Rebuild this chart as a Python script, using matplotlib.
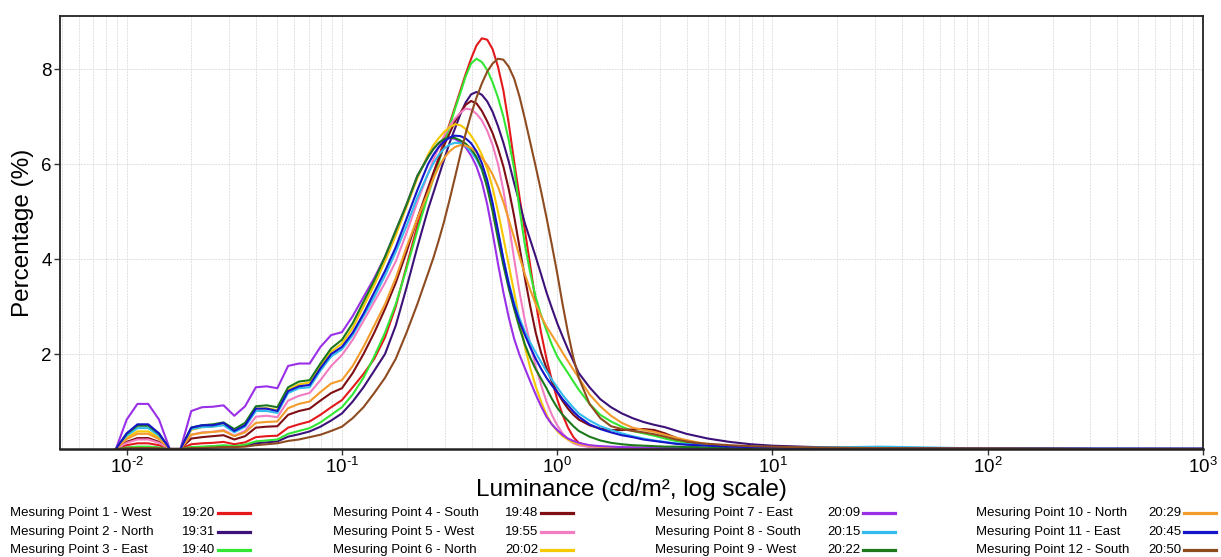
import numpy as np
import matplotlib
matplotlib.use("Agg")
import matplotlib.pyplot as plt
from matplotlib.lines import Line2D

plt.rcParams['font.family'] = ['Liberation Sans', 'DejaVu Sans']
plt.rcParams['mathtext.fontset'] = 'custom'
plt.rcParams['mathtext.rm'] = 'Liberation Sans'
plt.rcParams['mathtext.it'] = 'Liberation Sans'

#================================================================================================================================
# luminance values (cd/m2) where the distributions were read off
lum_low = [0.00891, 0.0100, 0.01122, 0.01259, 0.01413, 0.01585, 0.01778, 0.01995, 0.02239, 0.02512,
           0.02818, 0.03162, 0.03548, 0.03981, 0.04467, 0.05012, 0.05623, 0.06310, 0.07079, 0.07943,
           0.08913, 0.1000, 0.1122, 0.1259, 0.1413, 0.1585, 0.1778, 0.1995, 0.2239]
lum_mid = [0.2512, 0.2661, 0.2818, 0.2985, 0.3162, 0.3350, 0.3548, 0.3758, 0.3981, 0.4217,
           0.4467, 0.4732, 0.5012, 0.5309, 0.5623, 0.5957, 0.6310, 0.6683, 0.7079, 0.7499,
           0.7943, 0.8414, 0.8913, 0.9441, 1.000, 1.059, 1.122, 1.189, 1.259]
lum_high = [1.413, 1.585, 1.778, 1.995, 2.239, 2.512, 2.818, 3.162, 3.548, 3.981,
            4.467, 5.012, 6.310, 7.943, 10.0, 15.85, 31.62, 100.0, 316.2, 1000.0]
lum = lum_low + lum_mid + lum_high

# percentage per measuring point (low / peak / tail part)
p1 = [0, 0.08, 0.12, 0.12, 0.08, 0, 0, 0.10, 0.12, 0.13, 0.15, 0.10, 0.14, 0.25, 0.27,
      0.28, 0.45, 0.52, 0.58, 0.72, 0.88, 1.03, 1.30, 1.58, 1.90, 2.35, 3.00, 3.85, 4.70] + \
     [5.45, 5.8, 6.15, 6.5, 6.85, 7.2, 7.55, 7.9, 8.22, 8.5, 8.65, 8.62, 8.42, 8.05, 7.55,
      6.85, 6.05, 5.3, 4.6, 3.85, 3.1, 2.45, 1.9, 1.45, 1.05, 0.72, 0.45, 0.25, 0.13] + \
     [0.05, 0.03, 0.03, 0.03, 0.02, 0.02, 0.02, 0.02, 0.02, 0.02,
      0.01, 0.01, 0.01, 0.01, 0.01, 0.01, 0.01, 0, 0, 0]
p2 = [0, 0.025, 0.04, 0.04, 0.025, 0, 0, 0.03, 0.04, 0.05, 0.06, 0.05, 0.07, 0.12, 0.14,
      0.16, 0.26, 0.31, 0.37, 0.47, 0.60, 0.75, 1.00, 1.30, 1.65, 2.00, 2.60, 3.40, 4.25] + \
     [5.05, 5.4, 5.75, 6.1, 6.45, 6.75, 7.05, 7.3, 7.47, 7.52, 7.46, 7.32, 7.1, 6.8, 6.45,
      6.05, 5.6, 5.18, 4.75, 4.4, 4.05, 3.68, 3.3, 2.97, 2.65, 2.37, 2.10, 1.85, 1.60] + \
     [1.30, 1.05, 0.88, 0.75, 0.65, 0.57, 0.51, 0.46, 0.39, 0.32,
      0.27, 0.22, 0.15, 0.10, 0.07, 0.04, 0.02, 0.01, 0, 0]
p3 = [0, 0.03, 0.05, 0.05, 0.03, 0, 0, 0.04, 0.05, 0.06, 0.08, 0.06, 0.09, 0.16, 0.18,
      0.20, 0.32, 0.38, 0.44, 0.56, 0.72, 0.88, 1.15, 1.50, 1.95, 2.45, 3.05, 3.80, 4.60] + \
     [5.35, 5.7, 6.05, 6.42, 6.8, 7.16, 7.5, 7.85, 8.12, 8.22, 8.15, 7.98, 7.72, 7.4, 7.0,
      6.5, 5.9, 5.05, 4.3, 3.7, 3.2, 2.82, 2.5, 2.2, 1.95, 1.77, 1.6, 1.42, 1.25] + \
     [0.95, 0.72, 0.58, 0.47, 0.38, 0.33, 0.28, 0.22, 0.17, 0.13,
      0.10, 0.08, 0.05, 0.04, 0.03, 0.02, 0.01, 0.01, 0, 0]
p4 = [0, 0.15, 0.23, 0.23, 0.15, 0, 0, 0.22, 0.25, 0.27, 0.29, 0.20, 0.27, 0.45, 0.47,
      0.48, 0.72, 0.80, 0.85, 1.02, 1.18, 1.28, 1.60, 2.00, 2.45, 2.95, 3.50, 4.15, 4.85] + \
     [5.5, 5.82, 6.1, 6.4, 6.65, 6.9, 7.08, 7.25, 7.33, 7.28, 7.12, 6.9, 6.65, 6.33, 5.95,
      5.47, 4.9, 4.25, 3.6, 3.0, 2.45, 2.03, 1.7, 1.42, 1.2, 1.01, 0.85, 0.72, 0.62] + \
     [0.50, 0.43, 0.40, 0.40, 0.41, 0.42, 0.40, 0.33, 0.24, 0.16,
      0.11, 0.08, 0.05, 0.04, 0.03, 0.02, 0.01, 0.01, 0, 0]
p5 = [0, 0.13, 0.20, 0.20, 0.13, 0, 0, 0.30, 0.35, 0.36, 0.40, 0.28, 0.38, 0.68, 0.70,
      0.67, 1.02, 1.12, 1.18, 1.45, 1.75, 1.98, 2.30, 2.70, 3.10, 3.50, 3.95, 4.55, 5.20] + \
     [5.8, 6.1, 6.35, 6.6, 6.8, 6.96, 7.08, 7.17, 7.15, 7.06, 6.92, 6.7, 6.4, 6.0, 5.45,
      4.75, 4.0, 3.3, 2.7, 2.2, 1.75, 1.35, 1.0, 0.72, 0.5, 0.33, 0.2, 0.12, 0.08] + \
     [0.04, 0.03, 0.02, 0.02, 0.02, 0.02, 0.02, 0.01, 0.01, 0.01,
      0.01, 0.01, 0.01, 0.01, 0.01, 0.01, 0, 0, 0, 0]
p6 = [0, 0.24, 0.37, 0.37, 0.24, 0, 0, 0.40, 0.46, 0.47, 0.52, 0.38, 0.50, 0.85, 0.86,
      0.82, 1.25, 1.36, 1.40, 1.75, 2.05, 2.22, 2.55, 3.00, 3.45, 3.95, 4.50, 5.10, 5.70] + \
     [6.2, 6.4, 6.55, 6.68, 6.78, 6.84, 6.82, 6.74, 6.6, 6.42, 6.2, 5.9, 5.5, 5.0, 4.45,
      3.87, 3.3, 2.7, 2.15, 1.7, 1.32, 1.0, 0.72, 0.52, 0.38, 0.27, 0.2, 0.14, 0.11] + \
     [0.07, 0.05, 0.04, 0.03, 0.03, 0.02, 0.02, 0.02, 0.02, 0.01,
      0.01, 0.01, 0.01, 0.01, 0.01, 0.01, 0, 0, 0, 0]
p7 = [0, 0.62, 0.95, 0.95, 0.62, 0, 0, 0.80, 0.88, 0.89, 0.92, 0.70, 0.90, 1.30, 1.32,
      1.28, 1.75, 1.80, 1.80, 2.15, 2.40, 2.46, 2.80, 3.20, 3.60, 4.05, 4.60, 5.15, 5.75] + \
     [6.15, 6.32, 6.44, 6.52, 6.55, 6.53, 6.46, 6.35, 6.18, 5.95, 5.62, 5.15, 4.55, 3.9, 3.3,
      2.77, 2.32, 1.98, 1.7, 1.42, 1.15, 0.9, 0.68, 0.52, 0.4, 0.3, 0.22, 0.17, 0.13] + \
     [0.08, 0.06, 0.05, 0.04, 0.035, 0.03, 0.03, 0.02, 0.02, 0.02,
      0.02, 0.02, 0.01, 0.01, 0.01, 0.01, 0.01, 0, 0, 0]
p8 = [0, 0.28, 0.44, 0.44, 0.28, 0, 0, 0.42, 0.46, 0.47, 0.50, 0.35, 0.47, 0.80, 0.80,
      0.76, 1.18, 1.28, 1.30, 1.65, 1.95, 2.10, 2.40, 2.80, 3.20, 3.65, 4.15, 4.70, 5.30] + \
     [5.8, 6.02, 6.2, 6.33, 6.41, 6.45, 6.44, 6.38, 6.27, 6.1, 5.88, 5.55, 5.1, 4.55, 4.0,
      3.5, 3.08, 2.75, 2.47, 2.24, 2.03, 1.83, 1.64, 1.46, 1.3, 1.14, 1.0, 0.87, 0.75] + \
     [0.60, 0.48, 0.40, 0.33, 0.27, 0.22, 0.18, 0.15, 0.12, 0.10,
      0.09, 0.08, 0.06, 0.05, 0.04, 0.03, 0.05, 0.01, 0.005, 0]
p9 = [0, 0.32, 0.49, 0.49, 0.32, 0, 0, 0.45, 0.50, 0.52, 0.56, 0.42, 0.55, 0.90, 0.92,
      0.88, 1.30, 1.42, 1.45, 1.80, 2.12, 2.30, 2.65, 3.10, 3.55, 4.05, 4.60, 5.15, 5.75] + \
     [6.15, 6.32, 6.45, 6.53, 6.56, 6.55, 6.5, 6.43, 6.32, 6.15, 5.9, 5.5, 5.0, 4.42, 3.87,
      3.38, 2.95, 2.55, 2.2, 1.92, 1.68, 1.48, 1.28, 1.06, 0.87, 0.72, 0.6, 0.48, 0.38] + \
     [0.26, 0.18, 0.13, 0.10, 0.08, 0.07, 0.06, 0.05, 0.05, 0.04,
      0.04, 0.03, 0.03, 0.02, 0.02, 0.01, 0.01, 0, 0, 0]
p10 = [0, 0.21, 0.32, 0.32, 0.21, 0, 0, 0.30, 0.34, 0.36, 0.38, 0.27, 0.35, 0.55, 0.57,
       0.58, 0.86, 0.95, 1.00, 1.20, 1.38, 1.45, 1.75, 2.15, 2.60, 3.05, 3.60, 4.25, 4.85] + \
      [5.4, 5.7, 5.95, 6.13, 6.27, 6.36, 6.4, 6.39, 6.34, 6.25, 6.13, 5.98, 5.78, 5.52, 5.2,
       4.83, 4.45, 4.05, 3.68, 3.35, 3.05, 2.8, 2.58, 2.4, 2.22, 2.03, 1.85, 1.67, 1.5] + \
      [1.15, 0.90, 0.70, 0.55, 0.45, 0.40, 0.36, 0.30, 0.24, 0.19,
       0.14, 0.10, 0.06, 0.04, 0.03, 0.02, 0.01, 0.01, 0, 0]
p11 = [0, 0.33, 0.52, 0.52, 0.33, 0, 0, 0.45, 0.50, 0.50, 0.55, 0.38, 0.50, 0.85, 0.85,
       0.80, 1.22, 1.32, 1.35, 1.70, 2.00, 2.15, 2.45, 2.85, 3.30, 3.75, 4.25, 4.85, 5.45] + \
      [6.0, 6.2, 6.36, 6.48, 6.56, 6.6, 6.59, 6.54, 6.44, 6.27, 6.02, 5.66, 5.18, 4.6, 4.0,
       3.47, 3.02, 2.68, 2.4, 2.14, 1.9, 1.69, 1.5, 1.34, 1.2, 1.05, 0.92, 0.79, 0.68] + \
      [0.52, 0.42, 0.35, 0.29, 0.25, 0.20, 0.17, 0.14, 0.11, 0.09,
       0.08, 0.07, 0.05, 0.04, 0.03, 0.02, 0.02, 0.01, 0.01, 0.01]
p12 = [0, 0.015, 0.02, 0.02, 0.015, 0, 0, 0.02, 0.02, 0.03, 0.04, 0.04, 0.05, 0.08, 0.10,
       0.12, 0.17, 0.20, 0.25, 0.30, 0.38, 0.47, 0.65, 0.88, 1.18, 1.50, 1.90, 2.45, 3.05] + \
      [3.7, 4.03, 4.4, 4.8, 5.25, 5.72, 6.2, 6.65, 7.05, 7.4, 7.7, 7.95, 8.12, 8.22, 8.2,
       8.05, 7.8, 7.42, 6.95, 6.45, 5.95, 5.43, 4.88, 4.3, 3.7, 3.05, 2.45, 1.92, 1.5] + \
      [0.95, 0.65, 0.48, 0.42, 0.38, 0.35, 0.31, 0.26, 0.20, 0.16,
       0.13, 0.11, 0.08, 0.06, 0.05, 0.03, 0.02, 0.01, 0, 0]

curves = [p1, p2, p3, p4, p5, p6, p7, p8, p9, p10, p11, p12]
names = ["Mesuring Point 1 - West", "Mesuring Point 2 - North", "Mesuring Point 3 - East",
         "Mesuring Point 4 - South", "Mesuring Point 5 - West", "Mesuring Point 6 - North",
         "Mesuring Point 7 - East", "Mesuring Point 8 - South", "Mesuring Point 9 - West",
         "Mesuring Point 10 - North", "Mesuring Point 11 - East", "Mesuring Point 12 - South"]
times = ["19:20", "19:31", "19:40", "19:48", "19:55", "20:02",
         "20:09", "20:15", "20:22", "20:29", "20:45", "20:50"]
colors = ['#e3191c', '#3d1278', '#33e633', '#7f0f14', '#f27dc2', '#f5c800',
          '#9a2fe8', '#33bbee', '#1c7a1c', '#f39c2b', '#1414c8', '#8e4b20']
xtick_vals = [0.01, 0.1, 1, 10, 100, 1000]
xtick_labels = [r'$10^{\text{-2}}$', r'$10^{\text{-1}}$', r'$10^{0}$', r'$10^{1}$', r'$10^{2}$', r'$10^{3}$']

W, H = 1221, 557

#================================================================================================================================
fig = plt.figure(figsize=(W / 100, H / 100), dpi=100)
ax = fig.add_axes([60 / W, 1 - 449 / H, (1203 - 60) / W, (449 - 16) / H])

for y, c in zip(curves, colors):
    ax.plot(lum, y, color=c, lw=1.5, solid_joinstyle='round')

ax.set_xscale('log')
ax.set_xlim(0.0049, 1000)
ax.set_ylim(0, 9.12)
ax.set_yticks([2, 4, 6, 8])
ax.set_xticks(xtick_vals)
ax.set_xticklabels(xtick_labels)
ax.tick_params(axis='both', which='major', labelsize=13.5, length=4, width=1, color='#333333', pad=2)
ax.tick_params(axis='x', which='minor', length=0)
ax.grid(True, which='both', axis='x', color='#e0e0e0', lw=0.7, ls=(0, (2, 1)))
ax.grid(True, which='major', axis='y', color='#e0e0e0', lw=0.7, ls=(0, (2, 1)))
ax.set_axisbelow(True)
for s in ax.spines.values():
    s.set_color('#222222')
    s.set_linewidth(1.3)
ax.spines['bottom'].set_linewidth(1.8)

fig.text(631 / W, 1 - 490 / H, "Luminance (cd/m\u00b2, log scale)", ha='center', va='center', fontsize=17.5)
fig.text(23 / W, 1 - 233 / H, "Percentage (%)", ha='center', va='center', rotation=90, fontsize=17.5)

#================================================================================================================================
# legend, four columns of three rows below the axis
col_x = [10, 333, 655, 976]
row_y = [513, 532, 550]
for i in range(12):
    cx = col_x[i // 3]
    cy = 1 - row_y[i % 3] / H
    fig.text(cx / W, cy, names[i], ha='left', va='center', fontsize=9.5)
    fig.text((cx + 172) / W, cy, times[i], ha='left', va='center', fontsize=9.5)
    fig.add_artist(Line2D([(cx + 208) / W, (cx + 240) / W], [cy, cy], color=colors[i], lw=2.3,
                          transform=fig.transFigure))

fig.savefig("out.png", dpi=100)
